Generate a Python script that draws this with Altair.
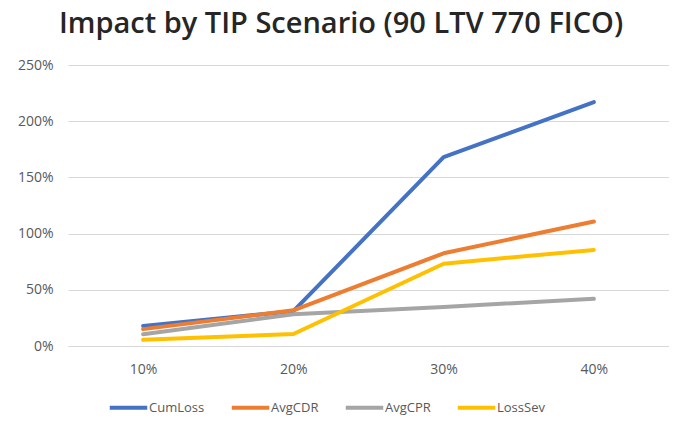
import altair as alt
import pandas as pd

scenarios = ["10%", "20%", "30%", "40%"]
series = ["CumLoss", "AvgCDR", "AvgCPR", "LossSev"]
cum_loss = [0.178, 0.31, 1.68, 2.17]
avg_cdr = [0.150, 0.318, 0.825, 1.108]
avg_cpr = [0.104, 0.282, 0.348, 0.420]
loss_sev = [0.055, 0.107, 0.732, 0.855]
colors = ["#4472C4", "#ED7D31", "#A5A5A5", "#FFC000"]

values = [cum_loss, avg_cdr, avg_cpr, loss_sev]
rows = []
for s, vals in zip(series, values):
    for sc, v in zip(scenarios, vals):
        rows.append({"Scenario": sc, "Series": s, "Value": v})
df = pd.DataFrame(rows)

chart = alt.Chart(df).mark_line(strokeWidth=4, strokeCap="round", strokeJoin="round").encode(
    x=alt.X("Scenario:N", sort=scenarios, title=None,
            scale=alt.Scale(paddingInner=0, paddingOuter=0.5),
            axis=alt.Axis(labelAngle=0, ticks=False, domain=True, domainColor="#D9D9D9",
                          labelPadding=16, labelFontSize=14, labelColor="#595959",
                          labelFont="Open Sans", grid=False)),
    y=alt.Y("Value:Q", title=None,
            scale=alt.Scale(domain=[0, 2.5], nice=False),
            axis=alt.Axis(format=".0%", values=[0, 0.5, 1, 1.5, 2, 2.5], ticks=False, domain=False,
                          labelPadding=15, labelFontSize=14, labelColor="#595959",
                          labelFont="Open Sans", gridColor="#D9D9D9", gridWidth=1.2,
                          minExtent=55, maxExtent=55)),
    color=alt.Color("Series:N", sort=series,
                    scale=alt.Scale(domain=series, range=colors),
                    legend=alt.Legend(orient="none", direction="horizontal", legendX=40, legendY=333,
                                      title=None, symbolType="M-2.5,0H2.5",
                                      symbolSize=225, symbolStrokeWidth=4,
                                      symbolOffset=11, labelOffset=11,
                                      labelFontSize=13, labelColor="#595959",
                                      labelFont="Open Sans", columnPadding=18)),
    order=alt.Order("Scenario:N"),
).properties(
    width=601,
    height=281,
    padding={"left": 5, "top": 2, "right": 0, "bottom": 0},
    title=alt.Title("Impact by TIP Scenario (90 LTV 770 FICO)", fontSize=29, font="Open Sans",
                    fontWeight=600, color="#262626", anchor="middle", frame="bounds", offset=19),
).configure_view(stroke=None)

chart.save("out.html", embed_options={"renderer": "svg", "actions": False})
